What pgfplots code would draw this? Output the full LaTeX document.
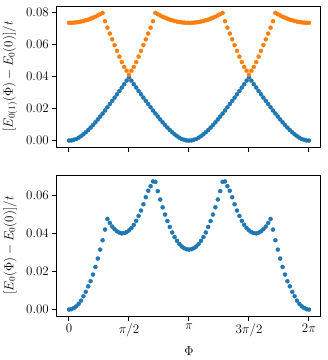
\RequirePackage{fix-cm}
\documentclass[border=0pt]{standalone}
\usepackage{pgfplots}
\usepackage{pgfplotstable}
\pgfplotsset{compat=1.18}
\definecolor{tabblue}{HTML}{1F77B4}
\definecolor{taborange}{HTML}{FF7F0E}
\pgfplotstableread{
x b o v
0.0000 0.0000 0.0735 0.0000
0.0628 0.0001 0.0735 0.0002
0.1257 0.0005 0.0736 0.0008
0.1885 0.0010 0.0738 0.0017
0.2513 0.0018 0.0740 0.0030
0.3142 0.0028 0.0743 0.0047
0.3770 0.0039 0.0746 0.0070
0.4398 0.0052 0.0751 0.0093
0.5027 0.0066 0.0755 0.0122
0.5655 0.0081 0.0761 0.0149
0.6283 0.0097 0.0767 0.0184
0.6912 0.0114 0.0773 0.0224
0.7540 0.0132 0.0781 0.0268
0.8168 0.0150 0.0789 0.0315
0.8796 0.0169 0.0797 0.0364
0.9425 0.0188 0.0745 0.0420
1.0053 0.0208 0.0705 0.0476
1.0681 0.0228 0.0668 0.0455
1.1310 0.0248 0.0632 0.0436
1.1938 0.0268 0.0596 0.0422
1.2566 0.0289 0.0560 0.0411
1.3195 0.0310 0.0524 0.0404
1.3823 0.0331 0.0490 0.0400
1.4451 0.0352 0.0460 0.0402
1.5080 0.0374 0.0436 0.0407
1.5708 0.0395 0.0411 0.0416
1.6336 0.0374 0.0436 0.0428
1.6965 0.0352 0.0460 0.0445
1.7593 0.0331 0.0490 0.0466
1.8221 0.0310 0.0524 0.0492
1.8850 0.0289 0.0560 0.0520
1.9478 0.0268 0.0596 0.0553
2.0106 0.0248 0.0632 0.0590
2.0735 0.0228 0.0668 0.0624
2.1363 0.0208 0.0705 0.0648
2.1991 0.0188 0.0745 0.0673
2.2619 0.0169 0.0797 0.0671
2.3248 0.0150 0.0789 0.0622
2.3876 0.0132 0.0781 0.0578
2.4504 0.0114 0.0773 0.0537
2.5133 0.0097 0.0767 0.0499
2.5761 0.0081 0.0761 0.0465
2.6389 0.0066 0.0755 0.0434
2.7018 0.0052 0.0751 0.0405
2.7646 0.0039 0.0746 0.0381
2.8274 0.0028 0.0743 0.0361
2.8903 0.0018 0.0740 0.0344
2.9531 0.0010 0.0738 0.0331
3.0159 0.0005 0.0736 0.0322
3.0788 0.0001 0.0735 0.0317
3.1416 0.0000 0.0735 0.0315
3.2044 0.0001 0.0735 0.0317
3.2673 0.0005 0.0736 0.0322
3.3301 0.0010 0.0738 0.0331
3.3929 0.0018 0.0740 0.0344
3.4558 0.0028 0.0743 0.0361
3.5186 0.0039 0.0746 0.0381
3.5814 0.0052 0.0751 0.0405
3.6442 0.0066 0.0755 0.0434
3.7071 0.0081 0.0761 0.0465
3.7699 0.0097 0.0767 0.0499
3.8327 0.0114 0.0773 0.0537
3.8956 0.0132 0.0781 0.0578
3.9584 0.0150 0.0789 0.0622
4.0212 0.0169 0.0797 0.0671
4.0841 0.0188 0.0745 0.0673
4.1469 0.0208 0.0705 0.0648
4.2097 0.0228 0.0668 0.0624
4.2726 0.0248 0.0632 0.0590
4.3354 0.0268 0.0596 0.0553
4.3982 0.0289 0.0560 0.0520
4.4611 0.0310 0.0524 0.0492
4.5239 0.0331 0.0490 0.0466
4.5867 0.0352 0.0460 0.0445
4.6496 0.0374 0.0436 0.0428
4.7124 0.0395 0.0411 0.0416
4.7752 0.0374 0.0436 0.0407
4.8381 0.0352 0.0460 0.0402
4.9009 0.0331 0.0490 0.0400
4.9637 0.0310 0.0524 0.0404
5.0265 0.0289 0.0560 0.0411
5.0894 0.0268 0.0596 0.0422
5.1522 0.0248 0.0632 0.0436
5.2150 0.0228 0.0668 0.0455
5.2779 0.0208 0.0705 0.0476
5.3407 0.0188 0.0745 0.0420
5.4035 0.0169 0.0797 0.0364
5.4664 0.0150 0.0789 0.0315
5.5292 0.0132 0.0781 0.0268
5.5920 0.0114 0.0773 0.0224
5.6549 0.0097 0.0767 0.0184
5.7177 0.0081 0.0761 0.0149
5.7805 0.0066 0.0755 0.0122
5.8434 0.0052 0.0751 0.0093
5.9062 0.0039 0.0746 0.0070
5.9690 0.0028 0.0743 0.0047
6.0319 0.0018 0.0740 0.0030
6.0947 0.0010 0.0738 0.0017
6.1575 0.0005 0.0736 0.0008
6.2204 0.0001 0.0735 0.0002
6.2832 0.0000 0.0735 0.0000
}\data

\pgfplotsset{
  myaxis/.style={
    anchor=south west, scale only axis, width=264pt, height=141pt,
    xmin=-0.314159, xmax=6.597345,
    xtick={0,1.570796,3.141593,4.712389,6.283185},
    tick align=outside, major tick length=4.7pt,
    xtick pos=left, ytick pos=left,
    axis line style={line width=1pt},
    major tick style={line width=1pt, black},
    tick label style={font=\fontsize{13}{16}\selectfont},
    label style={font=\fontsize{13}{16}\selectfont},
    scaled y ticks=false,
    ylabel style={at={(axis description cs:-0.178,0.5)}, anchor=center},
  },
  mymarks/.style={only marks, mark=*, mark size=2pt, color=#1, mark options={solid, draw=none, fill=#1}},
}

\begin{document}
\begin{tikzpicture}
\path[use as bounding box] (0,0) rectangle (328pt,360pt);
\begin{axis}[myaxis, at={(57pt,213pt)},
  ymin=-0.004, ymax=0.084,
  ytick={0,0.02,0.04,0.06,0.08},
  yticklabels={$0.00$,$0.02$,$0.04$,$0.06$,$0.08$},
  xticklabels={{},{},{},{},{}},
  ylabel={$[E_{0(1)}(\Phi)-E_0(0)]/t$}]
\addplot[mymarks=tabblue] table[x=x,y=b]{\data};
\addplot[mymarks=taborange] table[x=x,y=o]{\data};
\end{axis}
\begin{axis}[myaxis, at={(57pt,44pt)},
  ymin=-0.00337, ymax=0.07067,
  ytick={0,0.02,0.04,0.06},
  yticklabels={$0.00$,$0.02$,$0.04$,$0.06$},
  xticklabels={$0$,$\pi/2$,$\pi$,$3\pi/2$,$2\pi$},
  xlabel={$\Phi$},
  xlabel style={at={(axis description cs:0.5,-0.248)}, anchor=center},
  ylabel={$[E_0(\Phi)-E_0(0)]/t$}]
\addplot[mymarks=tabblue] table[x=x,y=v]{\data};
\end{axis}
\end{tikzpicture}
\end{document}
